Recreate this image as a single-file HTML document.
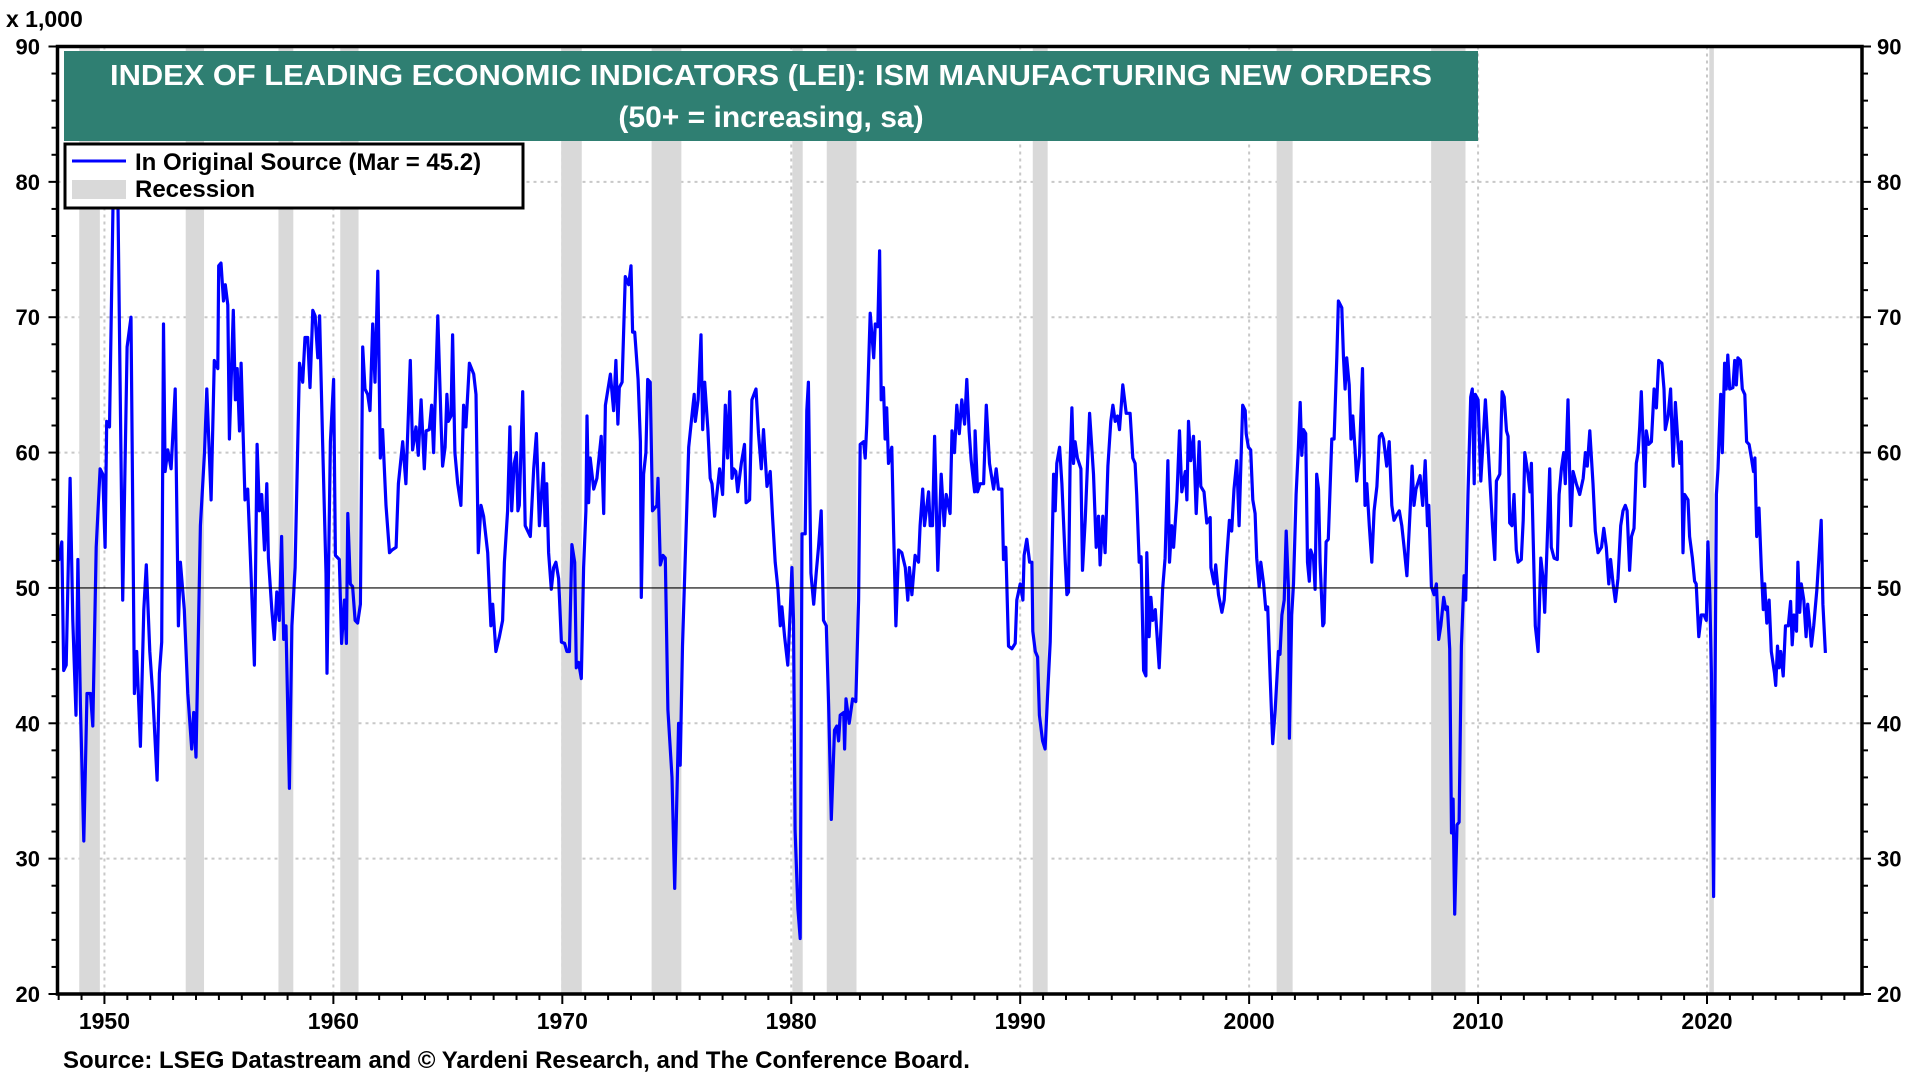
<!DOCTYPE html>
<html><head><meta charset="utf-8">
<style>
html,body{margin:0;padding:0;background:#fff;}
svg{display:block;font-family:"Liberation Sans",Arial,sans-serif;}
</style></head>
<body>
<svg id="chart" width="1920" height="1080" viewBox="0 0 1920 1080" xmlns="http://www.w3.org/2000/svg">
  <g id="grid"></g>
  <g id="recessions"></g>
  <g id="series"></g>
  <g id="axes"></g>
  <rect x="64" y="51" width="1414" height="90" fill="#2f7f72"/>
  <text x="771" y="85" text-anchor="middle" fill="#fff" font-weight="bold" font-size="29" textLength="1322" lengthAdjust="spacingAndGlyphs">INDEX OF LEADING ECONOMIC INDICATORS (LEI): ISM MANUFACTURING NEW ORDERS</text>
  <text x="771" y="127" text-anchor="middle" fill="#fff" font-weight="bold" font-size="30">(50+ = increasing, sa)</text>
  <g>
    <rect x="65" y="144" width="458" height="64" fill="#fff" stroke="#000" stroke-width="3"/>
    <line x1="72" y1="161" x2="126" y2="161" stroke="#0000ff" stroke-width="3"/>
    <text x="135" y="170" font-size="24" font-weight="bold">In Original Source (Mar = 45.2)</text>
    <rect x="72" y="180" width="54" height="19" fill="#d9d9d9"/>
    <text x="135" y="197" font-size="24" font-weight="bold">Recession</text>
  </g>
  <text x="6" y="27" font-size="23" font-weight="bold">x 1,000</text>
  <text x="63" y="1068" font-size="24" font-weight="bold">Source: LSEG Datastream and © Yardeni Research, and The Conference Board.</text>
</svg>
<script>
const dates = [1948.0,1948.14,1948.22,1948.33,1948.5,1948.62,1948.76,1948.84,1948.95,1949.1,1949.24,1949.39,1949.49,1949.64,1949.81,1949.93,1950.03,1950.1,1950.22,1950.41,1950.58,1950.8,1950.99,1951.16,1951.31,1951.41,1951.57,1951.72,1951.83,1951.98,1952.11,1952.3,1952.4,1952.5,1952.58,1952.65,1952.77,1952.91,1953.09,1953.23,1953.32,1953.49,1953.64,1953.81,1953.9,1954.0,1954.19,1954.37,1954.47,1954.66,1954.8,1954.95,1954.99,1955.09,1955.2,1955.28,1955.39,1955.46,1955.63,1955.72,1955.8,1955.9,1955.97,1956.14,1956.26,1956.4,1956.55,1956.67,1956.77,1956.87,1956.99,1957.09,1957.16,1957.31,1957.42,1957.53,1957.64,1957.74,1957.83,1957.93,1958.08,1958.19,1958.33,1958.52,1958.66,1958.76,1958.88,1958.98,1959.1,1959.2,1959.32,1959.4,1959.53,1959.68,1959.72,1959.87,1960.01,1960.09,1960.26,1960.36,1960.48,1960.57,1960.63,1960.74,1960.84,1960.95,1961.06,1961.18,1961.28,1961.38,1961.5,1961.6,1961.72,1961.82,1961.94,1962.05,1962.15,1962.3,1962.45,1962.56,1962.74,1962.84,1963.03,1963.17,1963.36,1963.46,1963.61,1963.71,1963.83,1963.97,1964.05,1964.19,1964.29,1964.38,1964.56,1964.7,1964.77,1964.88,1964.96,1965.02,1965.14,1965.21,1965.31,1965.43,1965.57,1965.69,1965.79,1965.94,1966.13,1966.23,1966.33,1966.45,1966.56,1966.74,1966.88,1966.96,1967.1,1967.25,1967.39,1967.47,1967.61,1967.71,1967.79,1967.9,1968.0,1968.06,1968.12,1968.27,1968.38,1968.6,1968.75,1968.87,1969.0,1969.18,1969.25,1969.32,1969.4,1969.52,1969.62,1969.72,1969.84,1969.96,1970.1,1970.2,1970.31,1970.42,1970.54,1970.61,1970.71,1970.83,1970.93,1971.03,1971.08,1971.15,1971.22,1971.37,1971.51,1971.7,1971.81,1971.88,1972.1,1972.24,1972.34,1972.43,1972.49,1972.61,1972.75,1972.9,1973.0,1973.07,1973.16,1973.31,1973.41,1973.45,1973.55,1973.65,1973.73,1973.84,1973.94,1974.13,1974.18,1974.28,1974.4,1974.5,1974.61,1974.79,1974.91,1975.08,1975.15,1975.25,1975.4,1975.52,1975.66,1975.76,1975.81,1975.93,1976.06,1976.13,1976.22,1976.36,1976.46,1976.54,1976.65,1976.75,1976.87,1977.0,1977.12,1977.22,1977.31,1977.41,1977.48,1977.58,1977.66,1977.82,1977.96,1978.03,1978.18,1978.28,1978.46,1978.57,1978.69,1978.79,1978.94,1979.08,1979.18,1979.3,1979.42,1979.52,1979.59,1979.71,1979.85,1979.96,1980.03,1980.1,1980.17,1980.29,1980.39,1980.47,1980.61,1980.68,1980.75,1980.86,1980.98,1981.09,1981.19,1981.31,1981.41,1981.53,1981.63,1981.75,1981.89,1981.99,1982.07,1982.14,1982.29,1982.33,1982.39,1982.53,1982.68,1982.82,1982.94,1983.01,1983.16,1983.23,1983.3,1983.45,1983.6,1983.67,1983.78,1983.86,1983.93,1984.03,1984.1,1984.17,1984.25,1984.39,1984.47,1984.57,1984.69,1984.83,1984.98,1985.09,1985.16,1985.27,1985.41,1985.56,1985.63,1985.74,1985.82,1986.0,1986.07,1986.17,1986.26,1986.4,1986.55,1986.68,1986.77,1986.94,1987.02,1987.13,1987.23,1987.34,1987.45,1987.57,1987.67,1987.77,1987.86,1988.01,1988.03,1988.14,1988.25,1988.4,1988.52,1988.66,1988.84,1988.95,1989.05,1989.2,1989.27,1989.37,1989.49,1989.64,1989.78,1989.85,1990.0,1990.12,1990.17,1990.29,1990.41,1990.51,1990.55,1990.66,1990.76,1990.84,1990.98,1991.09,1991.19,1991.31,1991.46,1991.53,1991.6,1991.72,1991.82,1991.97,1992.04,1992.11,1992.18,1992.26,1992.33,1992.4,1992.5,1992.65,1992.72,1992.84,1993.03,1993.2,1993.32,1993.42,1993.49,1993.61,1993.71,1993.83,1993.96,1994.05,1994.15,1994.25,1994.34,1994.48,1994.63,1994.8,1994.92,1995.02,1995.09,1995.2,1995.28,1995.39,1995.49,1995.53,1995.63,1995.71,1995.79,1995.9,1996.07,1996.22,1996.33,1996.45,1996.52,1996.62,1996.7,1996.84,1996.96,1997.06,1997.21,1997.28,1997.35,1997.45,1997.57,1997.69,1997.82,1997.89,1998.03,1998.15,1998.3,1998.33,1998.47,1998.54,1998.66,1998.81,1998.91,1999.02,1999.14,1999.24,1999.34,1999.46,1999.56,1999.64,1999.72,1999.83,1999.87,1999.97,2000.07,2000.16,2000.26,2000.33,2000.44,2000.51,2000.63,2000.73,2000.81,2000.92,2001.03,2001.14,2001.28,2001.35,2001.43,2001.53,2001.62,2001.72,2001.76,2001.86,2001.94,2002.05,2002.15,2002.23,2002.3,2002.37,2002.47,2002.55,2002.63,2002.69,2002.81,2002.88,2002.95,2003.03,2003.1,2003.22,2003.27,2003.36,2003.46,2003.61,2003.71,2003.83,2003.9,2004.05,2004.12,2004.19,2004.26,2004.37,2004.45,2004.53,2004.63,2004.7,2004.82,2004.95,2005.06,2005.14,2005.25,2005.36,2005.46,2005.58,2005.69,2005.79,2005.87,2006.01,2006.12,2006.23,2006.33,2006.45,2006.56,2006.67,2006.77,2006.89,2007.03,2007.12,2007.2,2007.29,2007.47,2007.58,2007.69,2007.79,2007.85,2007.96,2008.08,2008.18,2008.28,2008.37,2008.5,2008.59,2008.66,2008.76,2008.84,2008.91,2008.98,2009.08,2009.17,2009.27,2009.39,2009.46,2009.56,2009.68,2009.75,2009.83,2009.88,2010.0,2010.12,2010.19,2010.32,2010.44,2010.54,2010.63,2010.73,2010.8,2010.95,2011.05,2011.14,2011.24,2011.31,2011.38,2011.48,2011.57,2011.67,2011.75,2011.89,2011.97,2012.04,2012.18,2012.27,2012.33,2012.4,2012.5,2012.62,2012.74,2012.84,2012.91,2013.01,2013.13,2013.2,2013.32,2013.46,2013.54,2013.64,2013.74,2013.81,2013.93,2014.05,2014.15,2014.29,2014.44,2014.59,2014.69,2014.77,2014.88,2015.02,2015.12,2015.24,2015.39,2015.49,2015.6,2015.71,2015.79,2015.9,2016.0,2016.11,2016.23,2016.33,2016.43,2016.51,2016.62,2016.7,2016.81,2016.91,2016.99,2017.06,2017.13,2017.28,2017.35,2017.45,2017.57,2017.69,2017.79,2017.89,2018.03,2018.12,2018.18,2018.3,2018.41,2018.52,2018.62,2018.73,2018.81,2018.88,2018.95,2019.02,2019.17,2019.24,2019.36,2019.46,2019.53,2019.64,2019.75,2019.87,2019.97,2020.04,2020.12,2020.19,2020.29,2020.41,2020.48,2020.6,2020.67,2020.77,2020.84,2020.91,2020.99,2021.13,2021.21,2021.28,2021.35,2021.46,2021.54,2021.65,2021.73,2021.84,2021.94,2022.03,2022.09,2022.17,2022.27,2022.37,2022.46,2022.52,2022.61,2022.71,2022.81,2022.95,2023.0,2023.08,2023.15,2023.22,2023.33,2023.43,2023.55,2023.65,2023.72,2023.8,2023.91,2023.97,2024.05,2024.12,2024.23,2024.33,2024.4,2024.49,2024.56,2024.66,2024.8,2024.99,2025.06,2025.17];
const values = [52,53.4,43.9,44.3,58.1,47.6,40.6,52.1,41.4,31.3,42.2,42.2,39.8,53,58.8,58.4,53,62.3,61.9,82,80,49.1,67.8,70,42.2,45.3,38.3,48.4,51.7,45.3,42.2,35.8,43.7,46,69.5,58.6,60.2,58.8,64.7,47.2,51.9,48.4,42.2,38.1,40.8,37.5,54.6,60,64.7,56.5,66.8,66.2,73.8,74,71.2,72.4,70.9,61,70.5,63.9,66.2,61.6,66.6,56.5,57.3,51.1,44.3,60.6,55.7,56.9,52.8,57.7,52.2,48.4,46.2,49.7,47.6,53.8,46.2,47.2,35.2,47.2,51.5,66.6,65.2,68.5,68.5,64.8,70.5,70.1,67,70.1,60.8,51.1,43.7,60.8,65.4,52.4,52.1,45.9,49.1,45.9,55.5,50.3,50.1,47.6,47.4,48.8,67.8,64.7,64.3,63.1,69.5,65.2,73.4,59.6,61.7,56.1,52.6,52.8,53,57.7,60.8,57.7,66.8,60.2,61.9,59.8,63.9,58.8,61.6,61.7,63.5,60,70.1,62.3,59,60.4,64.3,62.3,62.7,68.7,60,57.7,56.1,63.5,61.9,66.6,65.8,64.3,52.6,56.1,55.3,52.6,47.2,48.8,45.3,46.4,47.6,51.9,55.7,61.9,55.7,59.2,60,55.7,56.1,64.5,54.6,53.8,58.8,61.4,54.6,59.2,54.6,57.7,52.6,49.9,51.5,51.9,50.7,46,45.9,45.3,45.3,53.2,51.9,44.1,44.5,43.3,51.5,55.7,62.7,56.3,59.6,57.3,58.1,61.2,55.5,63.5,65.8,63.1,66.8,62.1,64.8,65.2,73,72.4,73.8,68.9,68.9,65.4,60.8,49.3,58.4,60,65.4,65.2,55.7,56.1,58.1,51.7,52.4,52.2,41,36,27.8,40,36.9,45.7,53.8,60.4,62.7,64.3,62.3,63.9,68.7,61.7,65.2,61.7,58.1,57.7,55.3,56.9,58.8,56.9,63.5,59.6,64.5,58.1,58.8,58.6,57.1,59.2,60.6,56.3,56.5,63.9,64.7,61.4,58.8,61.7,57.5,58.6,55.3,51.9,49.9,47.2,48.6,46.4,44.3,48.4,51.5,47.6,32.1,26.3,24.1,54,54,63.1,65.2,51.1,48.8,51.1,53,55.7,47.6,47.2,41.4,32.9,39.5,39.8,38.7,40.6,40.8,38.1,41.8,40,41.8,41.6,49.1,60.6,60.8,59.6,62.1,70.3,67,69.5,69.3,74.9,63.9,64.8,61,63.3,59.2,60.4,54.2,47.2,52.8,52.6,51.5,49.1,51.5,49.5,52.4,51.9,54.6,57.3,54.6,57.1,54.6,54.6,61.2,51.3,58.4,54.6,56.9,55.5,61.6,60,63.5,61.4,63.9,62.1,65.4,61.6,59.4,57.1,61.6,57.1,57.7,57.7,63.5,59.2,57.3,58.8,57.3,57.3,52.1,53,45.7,45.5,45.9,49.1,50.3,49.1,52.4,53.6,51.9,51.9,46.8,45.3,44.9,40.6,38.7,38.1,41.8,46,58.4,55.7,59.2,60.4,57.7,51.9,49.5,49.7,59.2,63.3,59.2,60.8,59.6,58.8,51.3,55,62.9,58.4,53,55.3,51.7,55.3,52.6,59,62.3,63.5,62.3,62.7,61.7,65,62.9,62.9,59.6,59.2,56.9,51.9,52.3,43.9,43.5,52.6,46.4,49.3,47.6,48.4,44.1,49.9,52.2,59.4,51.9,54.6,53,56.5,61.6,57.1,58.6,56.5,62.3,59.4,61.2,55.5,60.8,57.5,57.1,54.8,55.2,51.5,50.3,51.7,49.5,48.2,49.1,52.2,55,54.2,57.3,59.4,54.6,59.2,63.5,63.1,61.4,60.4,60.2,56.5,55.5,52.2,50.1,51.9,50.3,48.4,48.6,43.3,38.5,41,45.3,45.1,48,49.1,54.2,49.9,38.9,48,50.3,56.9,60.4,63.7,59.8,61.7,61.4,51.9,50.5,52.8,52.2,49.9,58.4,57.3,51.9,47.2,47.4,53.4,53.6,61,61,67,71.2,70.7,67,64.7,67,65,61,62.7,60.2,57.9,59.8,66.2,56.1,57.7,54.6,51.9,55.7,57.5,61.2,61.4,61,59,60.8,56.1,55,55.4,55.7,54.6,53,50.9,55.7,59,56.1,57.3,58.3,56.1,59.4,54.6,56.1,50.1,49.5,50.3,46.2,47.2,49.3,48.4,48.6,45.5,31.9,34.4,25.9,32.5,32.7,45.7,50.9,49.1,56.9,64.1,64.7,57.7,64.3,63.9,57.9,60,63.9,60.4,57.3,54.6,52.1,57.9,58.4,64.5,64.1,61.6,61.2,54.8,54.6,56.9,52.8,51.9,52.1,55,60,58.4,57.1,59.2,54.2,47.2,45.3,52.2,50.7,48.2,53,58.8,53,52.2,52.1,56.9,58.8,60,57.7,63.9,54.6,58.6,57.7,56.9,58.1,60,59,61.6,57.7,54.2,52.6,53,54.4,53,50.3,52.1,50.3,49,50.7,54.6,55.7,56.1,55.7,51.3,53.8,54.4,59.2,60,61.9,64.5,57.5,61.6,60.6,60.8,64.7,63.3,66.8,66.6,64.7,61.7,62.7,64.7,59,63.7,60.8,59.2,60.8,52.6,56.9,56.5,53.8,52.2,50.5,50.3,46.4,48,48,47.6,53.4,49.5,43.7,27.2,56.9,58.8,64.3,60,66.6,64.7,67.2,64.7,64.8,66.8,65,67,66.8,64.7,64.3,60.8,60.6,59.6,58.6,59.6,53.8,55.9,51.5,48.4,50.3,47.4,49.1,45.3,43.7,42.8,45.7,44.1,45.3,43.5,47.2,47.2,49,45.8,48,46.8,51.9,48.2,50.3,49.1,46.4,48.8,47.2,45.7,47.2,49.9,55,48.8,45.2];
const recStart = [1948.9,1953.55,1957.6,1960.3,1969.95,1973.9,1980.05,1981.55,1990.55,2001.2,2007.95,2020.1];
const recEnd   = [1949.8,1954.35,1958.25,1961.1,1970.85,1975.2,1980.5,1982.85,1991.2,2001.9,2009.45,2020.3];
const yTicks = [20,30,40,50,60,70,80,90];
const xTickYears = [1950,1960,1970,1980,1990,2000,2010,2020];

const NS = 'http://www.w3.org/2000/svg';
const L = 57.5, R = 1862, T = 46.5, B = 994;
const X0 = 1947.95, X1 = 2026.77;
const Y0 = 20, Y1 = 90;
function xs(v){ return L + (v - X0) / (X1 - X0) * (R - L); }
function ys(v){ return B - (v - Y0) / (Y1 - Y0) * (B - T); }
function mk(tag, attrs, parent){
  const el = document.createElementNS(NS, tag);
  for (const k in attrs) el.setAttribute(k, attrs[k]);
  parent.appendChild(el);
  return el;
}
const grid = document.getElementById('grid');
const rec = document.getElementById('recessions');
const ser = document.getElementById('series');
const axes = document.getElementById('axes');

for (let i = 0; i < recStart.length; i++) {
  const r = mk('rect', {x: xs(recStart[i]), y: T, width: xs(recEnd[i]) - xs(recStart[i]), height: B - T, fill: '#d9d9d9'}, rec);
  
  
}
yTicks.forEach(function(v){
  if (v === 20 || v === 90) return;
  const g = mk('line', {x1: L, x2: R, y1: ys(v), y2: ys(v), stroke: v === 50 ? '#000' : '#c8c8c8', 'stroke-width': v === 50 ? 1.2 : 2, 'stroke-dasharray': v === 50 ? 'none' : '3,4'}, v === 50 ? axes : grid);
  
  
});
xTickYears.forEach(function(yr){
  const g = mk('line', {x1: xs(yr), x2: xs(yr), y1: T, y2: B, stroke: '#c8c8c8', 'stroke-width': 2, 'stroke-dasharray': '3,4'}, grid);
  
  
});
let d = '';
for (let i = 0; i < dates.length; i++) {
  d += (i ? 'L' : 'M') + xs(dates[i]).toFixed(1) + ',' + ys(values[i]).toFixed(1);
}
const path = mk('path', {d: d, fill: 'none', stroke: '#0000ff', 'stroke-width': 3.2, 'stroke-linejoin': 'round'}, ser);



const frame = mk('rect', {x: L, y: T, width: R - L, height: B - T, fill: 'none', stroke: '#000', 'stroke-width': 3.5}, axes);


for (let v = Y0; v <= Y1; v += 2) {
  const major = v % 10 === 0;
  const len = major ? 9 : 6;
  mk('line', {x1: L - len, x2: L, y1: ys(v), y2: ys(v), stroke: '#000', 'stroke-width': 2}, axes);
  mk('line', {x1: R, x2: R + len, y1: ys(v), y2: ys(v), stroke: '#000', 'stroke-width': 2}, axes);
}
yTicks.forEach(function(v){
  const t1 = mk('text', {x: 40, y: ys(v) + 8, 'text-anchor': 'end', 'font-size': 22, 'font-weight': 'bold'}, axes);
  t1.textContent = v;
  
  
  const t2 = mk('text', {x: 1877, y: ys(v) + 8, 'text-anchor': 'start', 'font-size': 22, 'font-weight': 'bold'}, axes);
  t2.textContent = v;
  
  
});
for (let yr = 1948; yr <= 2026; yr++) {
  const major = yr % 10 === 0;
  mk('line', {x1: xs(yr), x2: xs(yr), y1: B, y2: B + (major ? 10 : 6), stroke: '#000', 'stroke-width': 2}, axes);
}
xTickYears.forEach(function(yr){
  const t = mk('text', {x: xs(yr), y: 1029, 'text-anchor': 'middle', 'font-size': 23, 'font-weight': 'bold'}, axes);
  t.textContent = yr;
  
  
});
</script>
</body></html>
